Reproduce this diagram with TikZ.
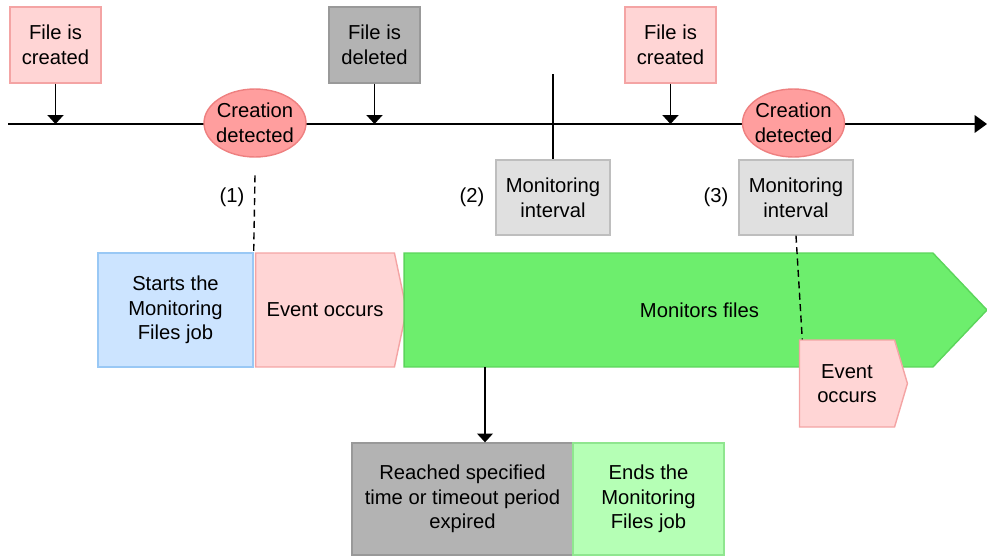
\documentclass[tikz,border=0pt]{standalone}
\usepackage{fontspec}
\setmainfont{Liberation Sans}
\usepackage{xcolor}
\usetikzlibrary{shapes.geometric, shapes.symbols, arrows.meta, positioning}

\definecolor{pinkfill}{HTML}{FFD5D5}
\definecolor{pinkline}{HTML}{F4A4A4}
\definecolor{redfill}{HTML}{FF9E9E}
\definecolor{redline}{HTML}{EE8080}
\definecolor{grayfill}{HTML}{B3B3B3}
\definecolor{grayline}{HTML}{999999}
\definecolor{lgrayfill}{HTML}{E0E0E0}
\definecolor{lgrayline}{HTML}{BEBEBE}
\definecolor{bluefill}{HTML}{CCE4FF}
\definecolor{blueline}{HTML}{99C8F5}
\definecolor{greenfill}{HTML}{6DEE6D}
\definecolor{greenline}{HTML}{5BD55B}
\definecolor{lgreenfill}{HTML}{B5FFB5}
\definecolor{lgreenline}{HTML}{8FE68F}

\begin{document}
\begin{tikzpicture}[
    x=0.02cm, y=-0.02cm, font=\fontsize{11.5}{14}\selectfont,
    fileop/.style={draw=pinkline, fill=pinkfill, minimum width=1.82cm, minimum height=1.52cm, align=center, inner sep=1pt, line width=0.8pt},
    removed/.style={fileop, draw=grayline, fill=grayfill},
    detect/.style={ellipse, draw=redline, fill=redfill, minimum width=2.04cm, minimum height=1.36cm, inner xsep=-2.5pt, inner ysep=0pt, align=center, line width=0.8pt},
    interval/.style={draw=lgrayline, fill=lgrayfill, minimum width=2.28cm, minimum height=1.5cm, align=center, inner sep=1pt, line width=0.8pt},
    jobbox/.style={draw=blueline, fill=bluefill, minimum width=3.1cm, minimum height=2.28cm, align=center, inner sep=1pt, line width=0.8pt},
    occurs/.style={signal, signal to=east, signal pointer angle=156, draw=pinkline, fill=pinkfill, minimum width=3.02cm, minimum height=2.28cm, align=center, inner sep=0pt, line width=0.8pt},
    monitor/.style={signal, signal to=east, signal pointer angle=93, draw=greenline, fill=greenfill, minimum width=11.66cm, minimum height=2.28cm, align=center, inner sep=0pt, line width=0.8pt},
    result/.style={draw=grayline, fill=grayfill, minimum width=4.42cm, minimum height=2.24cm, align=center, inner sep=1pt, line width=0.8pt},
    jobend/.style={result, draw=lgreenline, fill=lgreenfill, minimum width=3.02cm},
    link/.style={-{Triangle[length=5pt,width=9pt]}, line width=0.8pt},
    guide/.style={dashed, dash pattern=on 4pt off 2.5pt, line width=0.8pt}
]
    \useasboundingbox (0,0) rectangle (987,555);

    % time line
    \coordinate (t0) at (8,124);
    \coordinate (t1) at (987,124);
    \coordinate (tick) at (553,74);
    \draw[-{Triangle[length=7pt,width=10pt]}, line width=0.8pt] (t0) -- (t1);

    \node[fileop]  (fc1) at (55.5,45)  {File is\\created};
    \node[removed] (fd)  at (374.5,45) {File is\\deleted};
    \node[fileop]  (fc2) at (670.5,45) {File is\\created};

    \node[detect] (cd1) at (255,123)   {Creation\\detected};
    \node[detect] (cd2) at (793.5,123) {Creation\\detected};

    \node[interval] (mi1) at (553,197.5) {Monitoring\\interval};
    \node[interval] (mi2) at (796,197.5) {Monitoring\\interval};

    \node (n1) at (232,197) {(1)};
    \node (n2) at (472,197) {(2)};
    \node (n3) at (716,197) {(3)};

    \draw[link] (fc1.south) -- (fc1.south |- t0);
    \draw[link] (fd.south)  -- (fd.south |- t0);
    \draw[link] (fc2.south) -- (fc2.south |- t0);
    \draw[line width=0.8pt] (tick) -- (mi1.north);

    % job flow
    \node[jobbox]  (start) at (175.5,310) {Starts the\\Monitoring\\Files job};
    \node[occurs]  (ev1)   at (325,310) {Event occurs};
    \node[monitor, label={[xshift=0.62cm]center:Monitors files}] (mon) at (668.5,310) {};
    \node[occurs, minimum width=2.16cm, minimum height=1.74cm, signal pointer angle=147] (ev2) at (847,383.5) {Event\\occurs};

    \node[result] (reach) at (462.5,499) {Reached specified\\time or timeout period\\expired};
    \node[jobend] (ends)  at (648.5,499) {Ends the\\Monitoring\\Files job};

    \draw[guide] ([yshift=-10pt]cd1.south) -- (start.north east);
    \draw[guide] (mi2.south) -- ([xshift=2pt]ev2.north west);

    \coordinate (mf) at (485,367);
    \draw[link] (mf) -- (mf |- reach.north);
\end{tikzpicture}
\end{document}
